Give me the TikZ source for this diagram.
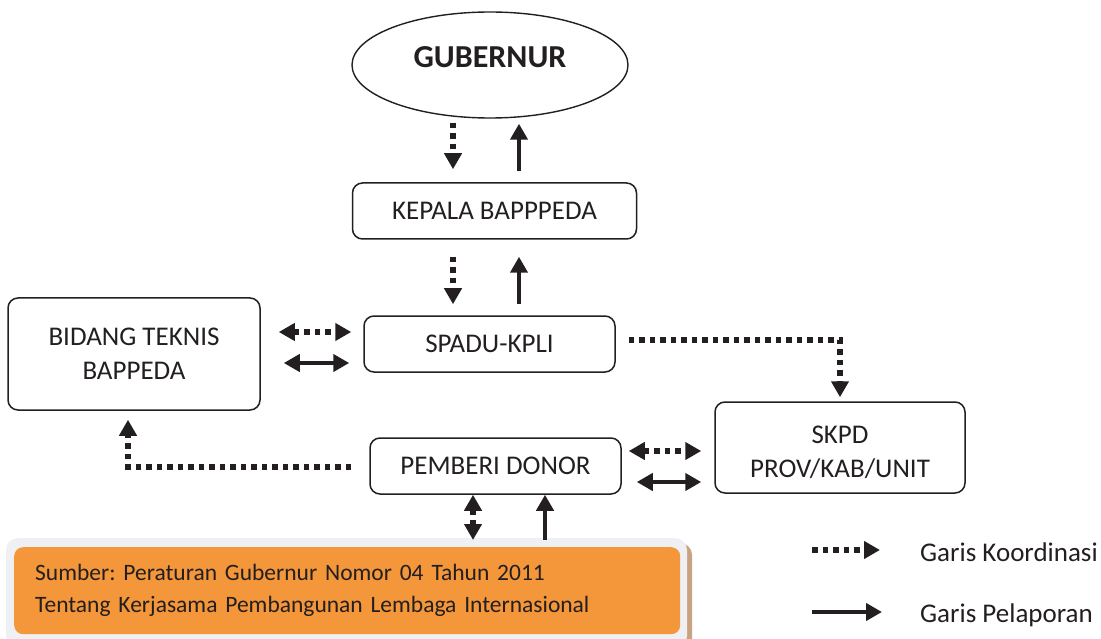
\documentclass[tikz,border=0pt]{standalone}
\usepackage{fontspec}
\setmainfont{Carlito}
\usetikzlibrary{arrows.meta, shapes.geometric, calc, positioning}

\definecolor{tinta}{HTML}{231F20}
\definecolor{oranye}{HTML}{F4963A}
\definecolor{bingkai}{HTML}{EFF0F3}
\definecolor{bayang}{HTML}{C9A27F}

\frenchspacing

\tikzset{
    ujungk/.tip={Triangle[length=16pt,width=17pt]},
    ujungl/.tip={Triangle[length=16pt,width=17pt]},
    kotak/.style={draw=tinta, line width=1.5pt, rounded corners=10pt, align=center, text=tinta, font=\fontsize{27}{34}\selectfont},
    oval/.style={ellipse, draw=tinta, line width=1.4pt, inner sep=0pt, minimum width=276pt, minimum height=106pt},
    koord/.style={draw=tinta, line width=5.5pt, dash pattern=on 5.5pt off 5pt, -ujungk},
    koordd/.style={koord, ujungk-ujungk},
    lapor/.style={draw=tinta, line width=4.5pt, -ujungl},
    lapord/.style={lapor, ujungl-ujungl},
    ket/.style={anchor=base west, inner sep=0pt, text=tinta, font=\fontsize{27}{32}\selectfont}
}

\begin{document}
\begin{tikzpicture}[x=1pt, y=-1pt]

    \useasboundingbox (0,0) rectangle (1101,639);

    % Columns and rows of the short arrows
    \coordinate (kiri)  at (453,0);
    \coordinate (kanan) at (519,0);
    \coordinate (b1) at (0,332);
    \coordinate (b2) at (0,363);
    \coordinate (d1) at (0,451);
    \coordinate (d2) at (0,482);
    \coordinate (c1) at (473,0);
    \coordinate (c2) at (545,0);

    % Boxes
    \node[oval] (gub) at (490,65) {};
    \node[font=\fontsize{32}{32}\selectfont\bfseries, text=tinta, inner sep=0pt] (gubtxt) at (490,57) {GUBERNUR};
    \node[kotak, minimum width=284pt, minimum height=56pt] (kepala) at (494.5,211) {KEPALA BAPPPEDA};
    \node[kotak, minimum width=251pt, minimum height=56pt] (spadu)  at (489.5,344) {SPADU-KPLI};
    \node[kotak, minimum width=252pt, minimum height=112pt] (bidang) at (134,354) {BIDANG TEKNIS\\BAPPEDA};
    \node[kotak, minimum width=250pt, minimum height=91pt] (skpd) at (840,447.5) {\rule{0pt}{28pt}SKPD\\PROV/KAB/UNIT};
    \node[kotak, minimum width=251pt, minimum height=56pt] (donor)  at (495.5,466) {PEMBERI DONOR};

    % Source box
    \fill[bayang, rounded corners=12pt] (10,543) rectangle (692,652);
    \fill[bingkai, rounded corners=12pt] (6,538) rectangle (687,648);
    \node[fill=oranye, rounded corners=9pt, anchor=north west, minimum width=666pt, minimum height=87pt,
          text width=624pt, inner xsep=21pt, align=left, text=tinta, font=\fontsize{23.5}{32}\selectfont]
          (sumber) at (14,547) {Sumber: Peraturan Gubernur Nomor 04 Tahun 2011\\Tentang Kerjasama Pembangunan Lembaga Internasional};

    % Vertical arrows
    \draw[koord] ($(gub.south -| kiri)+(0,4)$) -- ($(kepala.north -| kiri)+(0,-13)$);
    \draw[lapor] ($(kepala.north -| kanan)+(0,-11)$) -- ($(gub.south -| kanan)+(0,5)$);
    \draw[koord] ($(kepala.south -| kiri)+(0,17)$) -- ($(spadu.north -| kiri)+(0,-11)$);
    \draw[lapor] ($(spadu.north -| kanan)+(0,-11)$) -- ($(kepala.south -| kanan)+(0,17)$);

    % Side arrows
    \draw[koordd] ($(bidang.east |- b1)+(18,0)$) -- ($(spadu.west |- b1)+(-12,0)$);
    \draw[lapord] ($(bidang.east |- b2)+(23,0)$) -- ($(spadu.west |- b2)+(-14,0)$);
    \draw[koordd] ($(donor.east |- d1)+(7,0)$) -- ($(skpd.west |- d1)+(-13,0)$);
    \draw[lapord] ($(donor.east |- d2)+(15,0)$) -- ($(skpd.west |- d2)+(-13,0)$);

    % Elbow arrows
    \draw[koord] ($(spadu.east)+(13,-4)$) -| ($(skpd.north)+(0,-4)$);
    \draw[koord] ($(donor.west)+(-18,1)$) -| ($(bidang.south)+(-6,9)$);

    % Donor and source
    \draw[koordd] (donor.south -| c1) -- ($(sumber.north -| c1)+(0,-7)$);
    \draw[lapor] ($(sumber.north -| c2)+(0,-7)$) -- (donor.south -| c2);

    % Legend
    \coordinate (k1) at (812,550);
    \coordinate (k2) at (880,550);
    \coordinate (l1) at (812,612);
    \coordinate (l2) at (882,612);
    \draw[koord] (k1) -- (k2);
    \draw[lapor] (l1) -- (l2);
    \node[ket] (ketk) at (920,561) {Garis Koordinasi};
    \node[ket] (ketl) at (920,622) {Garis Pelaporan};

\end{tikzpicture}
\end{document}
